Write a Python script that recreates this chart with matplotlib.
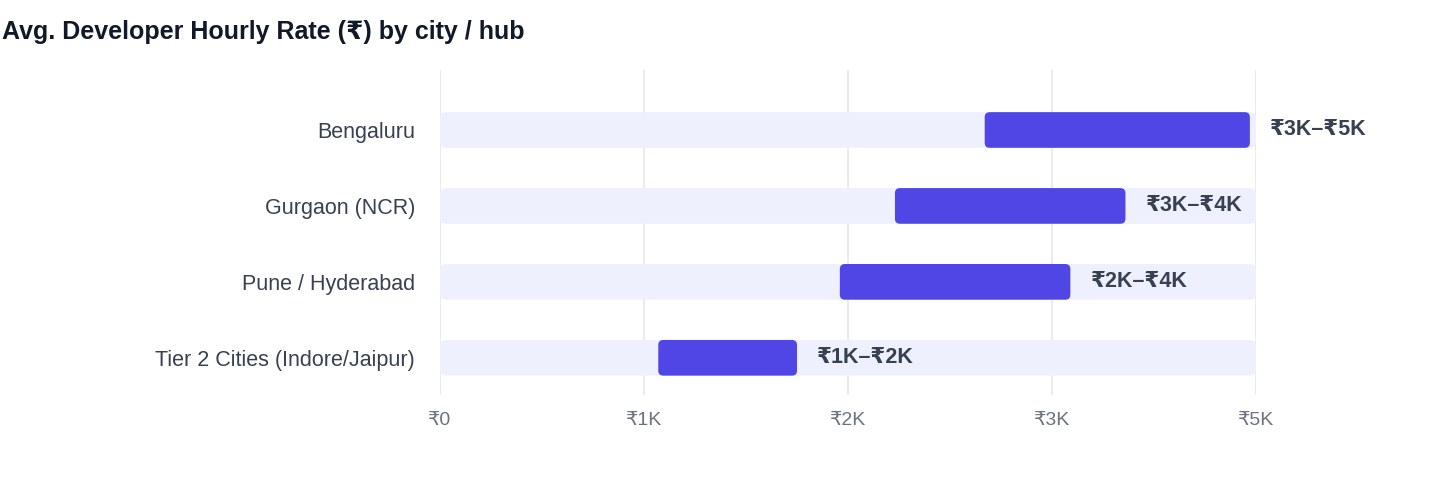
import matplotlib
matplotlib.use("Agg")
import matplotlib.pyplot as plt
from matplotlib.patches import FancyBboxPatch

plt.rcParams['font.family'] = ['Liberation Sans', 'DejaVu Sans']

cities = ["Bengaluru", "Gurgaon (NCR)", "Pune / Hyderabad", "Tier 2 Cities (Indore/Jaipur)"]
low = [2.67, 2.23, 1.96, 1.07]
high = [3.97, 3.36, 3.09, 1.75]
labels = ["₹3K–₹5K", "₹3K–₹4K", "₹2K–₹4K", "₹1K–₹2K"]
track_max = 4.0
tick_vals = [0, 1, 2, 3, 4]
tick_labels = ["₹0", "₹1K", "₹2K", "₹3K", "₹5K"]

fig = plt.figure(figsize=(14.4, 4.84), dpi=100)
ax = fig.add_axes([440/1440, 1-395/484, 816/1440, 325/484])
ax.set_xlim(0, 4.0)
ax.set_ylim(3.49, -0.79)
h = 0.47
asp = 2.65
for x in tick_vals:
    ax.axvline(x, color="#e5e7eb", lw=1.2, zorder=0)
for i, (c, lo, hi, lb) in enumerate(zip(cities, low, high, labels)):
    ax.add_patch(FancyBboxPatch((0, i-h/2), track_max, h, boxstyle="round,pad=0,rounding_size=0.03",
                                mutation_aspect=asp, fc="#eef1fd", ec="none", zorder=1))
    ax.add_patch(FancyBboxPatch((lo, i-h/2), hi-lo, h, boxstyle="round,pad=0,rounding_size=0.025",
                                mutation_aspect=asp, fc="#5046e5", ec="none", zorder=2))
    ax.text(hi+0.1, i, lb, va="center", ha="left", fontsize=15.5, fontweight="bold", color="#374151", zorder=3)
ax.set_yticks(range(len(cities)))
ax.set_yticklabels(cities, fontsize=15.5, color="#374151")
ax.set_xticks(tick_vals)
ax.set_xticklabels(tick_labels, fontsize=14, color="#6b7280")
ax.tick_params(length=0, pad=12)
ax.tick_params(axis='y', pad=18)
for s in ax.spines.values():
    s.set_visible(False)
fig.text(2/1440, 1-32/484, "Avg. Developer Hourly Rate (₹) by city / hub", fontsize=18,
         fontweight="bold", color="#111827", va="center", ha="left")
fig.savefig("out.png", dpi=100)
